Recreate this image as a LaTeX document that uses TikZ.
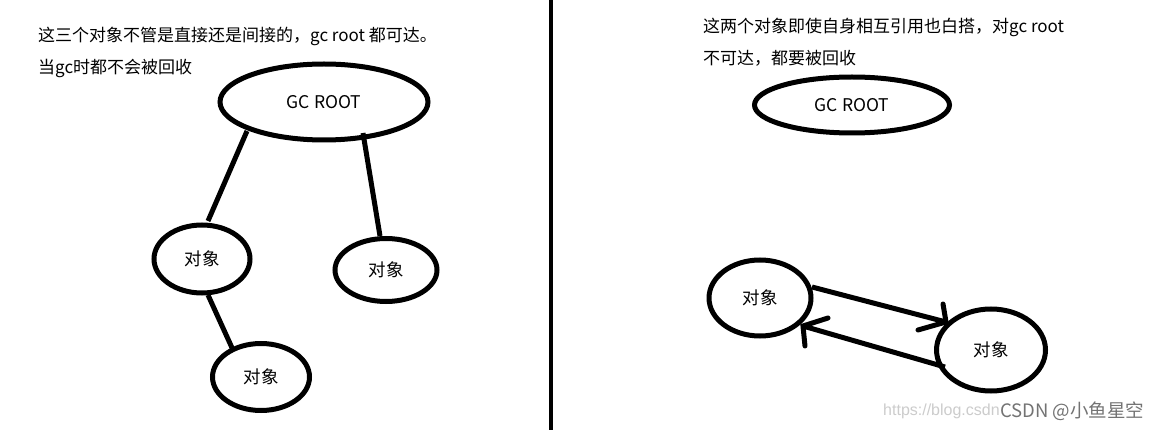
\documentclass[tikz,border=0pt]{standalone}
\usepackage{fontspec}
\setmainfont{Noto Sans CJK SC}
\newfontfamily\wmfont{Liberation Sans}
\usetikzlibrary{shapes.geometric}
\begin{document}
\begin{tikzpicture}[x=1pt,y=-1pt,
  ell/.style={draw,line width=5pt,ellipse,inner sep=0pt,font=\fontsize{17.5}{20}\selectfont},
  link/.style={line width=5pt},
  note/.style={anchor=west,inner sep=0pt,font=\fontsize{17}{20}\selectfont},
  head/.style={line width=5pt,line cap=round}]
\useasboundingbox (0,0) rectangle (1165,430);
\fill[white] (0,0) rectangle (1165,430);
% divider
\draw[line width=4pt] (551,0) -- (551,430);
% left text
\node[note] (t1) at (38,36) {这三个对象不管是直接还是间接的，gc root 都可达。};
\node[note] (t2) at (38,68) {当gc时都不会被回收};
% left nodes
\node[ell,minimum width=208pt,minimum height=76pt] (root) at (324,102) {GC ROOT};
\node[ell,minimum width=96pt,minimum height=68pt] (a) at (202,259) {对象};
\node[ell,minimum width=102pt,minimum height=63pt] (b) at (386,270) {对象};
\node[ell,minimum width=97pt,minimum height=67pt] (c) at (261,377) {对象};
\draw[link] (247,131) -- (208,221);
\draw[link] (363,133) -- (380,236);
\draw[link] (208,295) -- (233,350);
% right text
\node[note] (t3) at (703,27) {这两个对象即使自身相互引用也白搭，对gc root};
\node[note] (t4) at (703,58) {不可达，都要被回收};
% right nodes
\node[ell,minimum width=195pt,minimum height=56pt] (root2) at (852,105) {GC ROOT};
\node[ell,minimum width=102pt,minimum height=76pt] (o1) at (760,298) {对象};
\node[ell,minimum width=109pt,minimum height=82pt] (o2) at (991,350) {对象};
\coordinate (p1) at (812,287);
\coordinate (q1) at (946,322);
\coordinate (p2) at (945,367);
\coordinate (q2) at (803,326);
\draw[link] (p1) -- (q1);
\draw[head] (943,304) -- (q1) -- (918,330);
\draw[link] (p2) -- (q2);
\draw[head] (828,318) -- (q2) -- (805,346);
% watermark
\node[anchor=west,inner sep=0pt,text=black!20,font=\fontsize{16}{18}\selectfont\wmfont] (w1) at (883,411) {https://blog.csdn};
\node[anchor=west,inner sep=0pt,text=black!55,font=\fontsize{18.5}{20}\selectfont] (w2) at (1000,411) {CSDN @小鱼星空};
\end{tikzpicture}
\end{document}
